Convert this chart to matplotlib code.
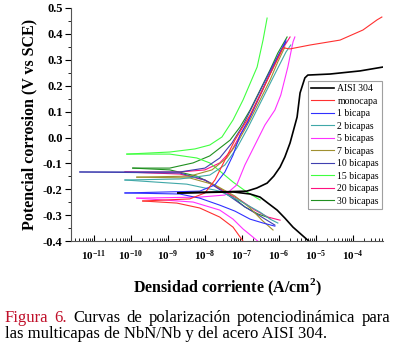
import matplotlib
matplotlib.use('Agg')
import matplotlib.pyplot as plt
from matplotlib.ticker import MultipleLocator, LogLocator, NullFormatter
import numpy as np

plt.rcParams['font.family'] = 'Liberation Serif'
plt.rcParams['mathtext.fontset'] = 'custom'
plt.rcParams['mathtext.rm'] = 'Liberation Serif'
plt.rcParams['mathtext.bf'] = 'Liberation Serif:bold'

# curvas: log10(i) [A/cm2] y potencial [V vs SCE]
labels = ['AISI 304', 'monocapa', '1 bicapa', '2 bicapas', '5 bicapas',
          '7 bicapas', '10 bicapas', '15 bicapas', '20 bicapas', '30 bicapas']
colors = ['black', '#FF3030', '#3030FF', '#40A8A8', '#FF30FF',
          '#A09030', '#4040B0', '#40FF40', '#FF1080', '#209020']

# rama anodica
aisi_an_logi = [-8.73, -7.60, -6.87, -6.60, -6.32, -6.14, -5.97, -5.84, -5.70, -5.51, -5.43, -5.30, -5.22, -4.62, -3.81, -3.19]
aisi_an_e = [-0.214, -0.210, -0.207, -0.195, -0.176, -0.149, -0.114, -0.075, -0.021, 0.079, 0.172, 0.230, 0.241, 0.245, 0.257, 0.272]
mono_an_logi = [-9.68, -8.41, -8.00, -7.73, -7.46, -7.19, -6.78, -6.38, -6.05, -5.89, -5.70, -5.16, -4.35, -3.73, -3.35, -3.22]
mono_an_e = [-0.245, -0.237, -0.214, -0.164, -0.087, -0.010, 0.087, 0.203, 0.299, 0.346, 0.342, 0.357, 0.376, 0.415, 0.454, 0.465]
b1_an_logi = [-10.16, -8.14, -7.73, -7.46, -7.24, -7.05, -6.84, -6.57, -6.30, -6.03, -5.81]
b1_an_e = [-0.214, -0.207, -0.183, -0.133, -0.068, 0.010, 0.060, 0.145, 0.230, 0.311, 0.376]
b2_an_logi = [-10.16, -8.68, -7.87, -7.46, -7.14, -6.84, -6.57, -6.30, -6.03, -5.81, -5.68]
b2_an_e = [-0.164, -0.160, -0.145, -0.106, -0.041, 0.037, 0.114, 0.191, 0.268, 0.330, 0.357]
b5_an_logi = [-9.84, -8.14, -7.46, -7.14, -6.92, -6.65, -6.38, -6.11, -5.95, -5.76, -5.62, -5.57]
b5_an_e = [-0.234, -0.230, -0.222, -0.183, -0.106, -0.029, 0.048, 0.106, 0.164, 0.272, 0.369, 0.388]
b7_an_logi = [-9.84, -8.41, -7.81, -7.41, -7.11, -6.78, -6.51, -6.24, -6.03, -5.84]
b7_an_e = [-0.153, -0.149, -0.125, -0.079, -0.017, 0.068, 0.145, 0.222, 0.292, 0.349]
b10_an_logi = [-11.38, -8.68, -8.00, -7.60, -7.27, -6.97, -6.70, -6.43, -6.19, -5.97, -5.81]
b10_an_e = [-0.133, -0.133, -0.118, -0.079, -0.021, 0.048, 0.125, 0.203, 0.272, 0.330, 0.369]
b15_an_logi = [-10.11, -8.95, -8.27, -7.87, -7.54, -7.24, -6.97, -6.59, -6.43, -6.32]
b15_an_e = [-0.064, -0.056, -0.044, -0.029, 0.002, 0.068, 0.145, 0.272, 0.376, 0.461]
b20_an_logi = [-10.16, -8.68, -8.00, -7.60, -7.27, -7.00, -6.73, -6.46, -6.19, -5.92, -5.70]
b20_an_e = [-0.133, -0.133, -0.125, -0.098, -0.048, 0.021, 0.095, 0.176, 0.261, 0.338, 0.388]
b30_an_logi = [-9.95, -8.95, -8.32, -7.87, -7.32, -7.05, -6.78, -6.51, -6.24, -6.03, -5.78]
b30_an_e = [-0.118, -0.118, -0.098, -0.071, -0.010, 0.041, 0.106, 0.183, 0.261, 0.326, 0.388]

# rama catodica
aisi_ca_logi = [-8.73, -7.24, -6.78, -6.51, -6.30, -6.05, -5.84, -5.62, -5.16]
aisi_ca_e = [-0.214, -0.210, -0.218, -0.230, -0.253, -0.280, -0.311, -0.346, -0.404]
mono_ca_logi = [-9.68, -8.76, -8.14, -7.60, -7.24, -6.97]
mono_ca_e = [-0.245, -0.253, -0.272, -0.307, -0.346, -0.400]
b1_ca_logi = [-10.16, -8.68, -8.14, -7.60, -7.19, -6.78, -6.43, -6.11]
b1_ca_e = [-0.214, -0.218, -0.234, -0.261, -0.284, -0.315, -0.330, -0.342]
b2_ca_logi = [-10.16, -8.49, -7.60, -7.05, -6.51, -6.24, -6.03]
b2_ca_e = [-0.164, -0.180, -0.207, -0.245, -0.288, -0.315, -0.330]
b5_ca_logi = [-9.84, -8.32, -7.60, -7.24, -6.97, -6.73, -6.57]
b5_ca_e = [-0.234, -0.249, -0.280, -0.315, -0.353, -0.381, -0.400]
b7_ca_logi = [-9.84, -8.41, -7.73, -7.19, -6.78, -6.46, -6.16]
b7_ca_e = [-0.153, -0.156, -0.183, -0.226, -0.272, -0.319, -0.357]
b10_ca_logi = [-11.38, -8.68, -8.00, -7.46, -6.92, -6.51, -6.11]
b10_ca_e = [-0.133, -0.137, -0.164, -0.214, -0.268, -0.303, -0.338]
b15_ca_logi = [-10.11, -8.95, -8.22, -7.87, -7.60, -7.24, -6.87, -6.51]
b15_ca_e = [-0.064, -0.064, -0.079, -0.098, -0.129, -0.172, -0.210, -0.241]
b20_ca_logi = [-10.16, -8.68, -8.00, -7.54, -7.05, -6.65, -6.30, -5.97]
b20_ca_e = [-0.133, -0.141, -0.164, -0.203, -0.241, -0.280, -0.307, -0.319]
b30_ca_logi = [-9.95, -8.95, -8.22, -7.78, -7.32, -6.92, -6.57, -6.24]
b30_ca_e = [-0.118, -0.125, -0.149, -0.180, -0.222, -0.268, -0.295, -0.311]

anodic = [(aisi_an_logi, aisi_an_e), (mono_an_logi, mono_an_e), (b1_an_logi, b1_an_e),
          (b2_an_logi, b2_an_e), (b5_an_logi, b5_an_e), (b7_an_logi, b7_an_e),
          (b10_an_logi, b10_an_e), (b15_an_logi, b15_an_e), (b20_an_logi, b20_an_e),
          (b30_an_logi, b30_an_e)]
cathodic = [(aisi_ca_logi, aisi_ca_e), (mono_ca_logi, mono_ca_e), (b1_ca_logi, b1_ca_e),
            (b2_ca_logi, b2_ca_e), (b5_ca_logi, b5_ca_e), (b7_ca_logi, b7_ca_e),
            (b10_ca_logi, b10_ca_e), (b15_ca_logi, b15_ca_e), (b20_ca_logi, b20_ca_e),
            (b30_ca_logi, b30_ca_e)]

fig = plt.figure(figsize=(3.94, 3.46), dpi=100)
ax = fig.add_axes([0.180, 0.303, 0.792, 0.674])

# dibujar de atras hacia adelante (el acero encima)
for k in range(len(labels) - 1, -1, -1):
    lw = 1.2 if k == 0 else 0.8
    la, ea = anodic[k]
    lc, ec = cathodic[k]
    ax.plot(10 ** np.array(la), ea, color=colors[k], lw=lw, label=labels[k])
    ax.plot(10 ** np.array(lc), ec, color=colors[k], lw=lw)

ax.set_xscale('log')
ax.set_xlim(10 ** -11.62, 10 ** -3.19)
ax.set_ylim(-0.4, 0.5)

ax.spines['top'].set_visible(False)
ax.spines['right'].set_visible(False)
ax.spines['left'].set_color('#555555')
ax.spines['bottom'].set_color('#555555')

ax.xaxis.set_major_locator(LogLocator(base=10, numticks=20))
ax.xaxis.set_minor_locator(LogLocator(base=10, subs=np.arange(2, 10), numticks=20))
ax.xaxis.set_minor_formatter(NullFormatter())
ax.yaxis.set_major_locator(MultipleLocator(0.1))
ax.yaxis.set_minor_locator(MultipleLocator(0.05))
ax.yaxis.set_major_formatter(plt.FuncFormatter(lambda v, p: f'{v:.1f}'))

ax.tick_params(axis='x', which='major', direction='in', length=4, width=0.8, labelsize=8, pad=5)
ax.tick_params(axis='x', which='minor', direction='in', length=2, width=0.6)
ax.tick_params(axis='y', which='major', direction='out', length=4, width=0.8, labelsize=9, pad=2)
ax.tick_params(axis='y', which='minor', direction='out', length=2, width=0.6)
for t in ax.get_xticklabels() + ax.get_yticklabels():
    t.set_fontweight('bold')

ax.set_ylabel('Potencial corrosion (V vs SCE)', fontsize=11.5, fontweight='bold', labelpad=4)
ax.set_xlabel('Densidad corriente (A/cm$^\\mathbf{2}$)', fontsize=11.5, fontweight='bold', labelpad=10)

handles, labs = ax.get_legend_handles_labels()
leg = ax.legend(handles[::-1], labs[::-1], loc='upper right', bbox_to_anchor=(0.997, 0.685),
                fontsize=7, frameon=True, fancybox=False, edgecolor='#888888',
                handlelength=2.3, handletextpad=0.4, labelspacing=0.36,
                borderpad=0.3, borderaxespad=0.0)
leg.get_frame().set_linewidth(0.8)

# pie de figura, primera linea justificada
fig.canvas.draw()
r = fig.canvas.get_renderer()
W = fig.bbox.width
x0, x1 = 5.0, 390.0
cap_fs = 12
words = [('Figura', '#C0102A'), ('6.', '#C0102A'), ('Curvas', 'black'), ('de', 'black'),
         ('polarización', 'black'), ('potenciodinámica', 'black'), ('para', 'black')]
texts = []
for w, c in words:
    t = fig.text(0, 0.068, w, color=c, fontsize=cap_fs, ha='left', va='baseline')
    texts.append(t)
widths = [t.get_window_extent(r).width for t in texts]
gap = (x1 - x0 - sum(widths)) / (len(words) - 1)
xp = x0
for t, w in zip(texts, widths):
    t.set_x(xp / W)
    xp += w + gap
fig.text(x0 / W, 0.022, 'las multicapas de NbN/Nb y del acero AISI 304.',
         color='black', fontsize=cap_fs, ha='left', va='baseline')

fig.savefig('out.png', dpi=100)
